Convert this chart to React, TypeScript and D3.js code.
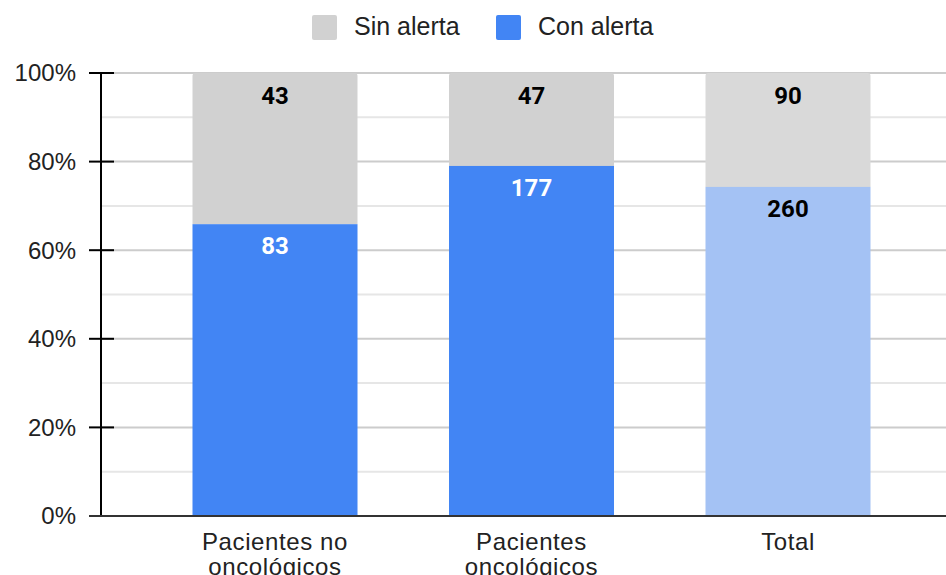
import React from "react";
import * as d3 from "d3";

const categories: string[][] = [["Pacientes no", "oncológicos"], ["Pacientes", "oncológicos"], ["Total"]];
const conAlerta: number[] = [83, 177, 260];
const sinAlerta: number[] = [43, 47, 90];
const conColors: string[] = ["#4285f4", "#4285f4", "#a4c2f4"];
const sinColors: string[] = ["#d1d1d1", "#d1d1d1", "#d9d9d9"];
const legendLabels: string[] = ["Sin alerta", "Con alerta"];
const legendColors: string[] = ["#d1d1d1", "#4285f4"];
const conLabelColors: string[] = ["#ffffff", "#ffffff", "#000000"];
const yTicks: number[] = [0, 0.2, 0.4, 0.6, 0.8, 1];
const yMinor: number[] = [0.1, 0.3, 0.5, 0.7, 0.9];

const W = 946;
const H = 575;

function topRounded(x: number, y: number, w: number, h: number, r: number): string {
  return `M${x},${y + h}V${y + r}Q${x},${y} ${x + r},${y}H${x + w - r}Q${x + w},${y} ${x + w},${y + r}V${y + h}Z`;
}

export default function App() {
  const keys = categories.map((c) => c.join(" "));
  const x = d3
    .scaleBand<string>()
    .domain(keys)
    .range([146.75, 916.25])
    .paddingInner(0.3567)
    .paddingOuter(0.3567 / 2);
  const y = d3.scaleLinear().domain([0, 1]).range([516, 73]);
  const fmt = d3.format(".0%");
  const font = "'Liberation Sans', Arial, sans-serif";
  const bold = "Roboto, 'Liberation Sans', Arial, sans-serif";

  return (
    <div style={{ position: "absolute", left: 0, top: 0 }}>
      <svg width={W} height={H} style={{ display: "block", background: "#fff" }}>
        {/* legend */}
        {legendLabels.map((l, i) => {
          const lx = [312, 496][i];
          return (
            <g key={l}>
              <rect x={lx} y={15} width={25} height={25} rx={2} fill={legendColors[i]} />
              <text x={lx + 42} y={35} fontFamily={font} fontSize={25} fill="#222">
                {l}
              </text>
            </g>
          );
        })}
        {/* gridlines */}
        {yMinor.map((t) => (
          <line key={"m" + t} x1={101} x2={W} y1={y(t)} y2={y(t)} stroke="#e6e6e6" strokeWidth={2} />
        ))}
        {yTicks.map((t) => (
          <line key={"g" + t} x1={101} x2={W} y1={y(t)} y2={y(t)} stroke="#cccccc" strokeWidth={2} />
        ))}
        {/* bars */}
        {keys.map((k, i) => {
          const total = conAlerta[i] + sinAlerta[i];
          const bx = x(k)!;
          const bw = x.bandwidth();
          const yc = y(conAlerta[i] / total);
          return (
            <g key={k}>
              <path d={topRounded(bx, y(1), bw, yc - y(1), 3)} fill={sinColors[i]} />
              <rect x={bx} y={yc} width={bw} height={y(0) - yc} fill={conColors[i]} />
              <text x={bx + bw / 2} y={y(1) + 31} textAnchor="middle" fontFamily={bold} fontWeight="bold" fontSize={24} fill="#000">
                {sinAlerta[i]}
              </text>
              <text x={bx + bw / 2} y={yc + 30} textAnchor="middle" fontFamily={bold} fontWeight="bold" fontSize={24} fill={conLabelColors[i]}>
                {conAlerta[i]}
              </text>
            </g>
          );
        })}
        {/* axes */}
        <line x1={101} x2={101} y1={y(1)} y2={y(0)} stroke="#000" strokeWidth={2} />
        {yTicks.map((t) => (
          <g key={"t" + t}>
            <line x1={89} x2={114} y1={y(t)} y2={y(t)} stroke="#000" strokeWidth={2} />
            <text x={76} y={y(t)} dy="0.35em" textAnchor="end" fontFamily={font} fontSize={24} fill="#222">
              {fmt(t)}
            </text>
          </g>
        ))}
        <line x1={89} x2={W} y1={y(0)} y2={y(0)} stroke="#333" strokeWidth={2} />
        {categories.map((c, i) => (
          <text key={keys[i]} x={x(keys[i])! + x.bandwidth() / 2} textAnchor="middle" fontFamily={font} fontSize={24} fill="#222" letterSpacing={0.6}>
            {c.map((line, j) => (
              <tspan key={j} x={x(keys[i])! + x.bandwidth() / 2} y={550 + j * 25}>
                {line}
              </tspan>
            ))}
          </text>
        ))}
      </svg>
    </div>
  );
}
